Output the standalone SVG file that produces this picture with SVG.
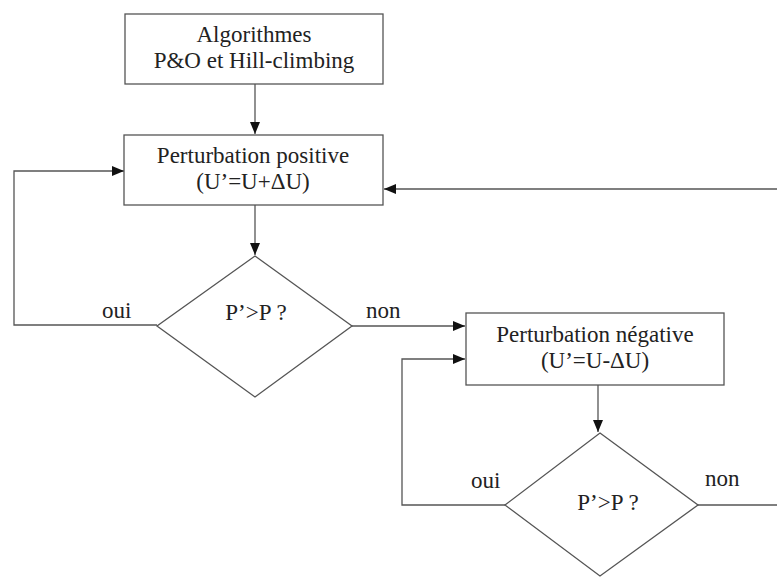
<svg xmlns="http://www.w3.org/2000/svg" width="777" height="577" viewBox="0 0 777 577">
<defs>
<style>
.box{fill:#fff;stroke:#555;stroke-width:1.3}
.ln{fill:none;stroke:#555;stroke-width:1.3}
.t{font-family:'Liberation Serif','Times New Roman',Tinos,'DejaVu Serif',serif;font-size:23px;fill:#222}
.c{text-anchor:middle}
</style>
<marker id="ah" viewBox="0 0 12 10" refX="12" refY="5" markerWidth="12" markerHeight="10" markerUnits="userSpaceOnUse" orient="auto">
<path d="M0,0 L12,5 L0,10 Z" fill="#111"/>
</marker>
</defs>
<rect width="777" height="577" fill="#fff"/>
<g id="connectors">
<path class="ln" d="M255,84 V134" marker-end="url(#ah)"/>
<path class="ln" d="M255,205 V255" marker-end="url(#ah)"/>
<path class="ln" d="M157,325 H14 V171 H124" marker-end="url(#ah)"/>
<path class="ln" d="M777,189 H384" marker-end="url(#ah)"/>
<path class="ln" d="M352,326 H465" marker-end="url(#ah)"/>
<path class="ln" d="M598,385 V432" marker-end="url(#ah)"/>
<path class="ln" d="M505,505 H402 V359 H465" marker-end="url(#ah)"/>
<path class="ln" d="M698,505 H777"/>
<text class="t" x="102" y="318">oui</text>
<text class="t" x="366" y="318">non</text>
<text class="t" x="471" y="488">oui</text>
<text class="t" x="705" y="486">non</text>
</g>
<g id="start">
<rect class="box" x="125" y="14" width="258" height="70"/>
<text class="t c" x="254" y="42">Algorithmes</text>
<text class="t c" x="254" y="68">P&amp;O et Hill-climbing</text>
</g>
<g id="pos">
<rect class="box" x="124" y="135" width="259" height="70"/>
<text class="t c" x="253" y="163">Perturbation positive</text>
<text class="t c" x="253" y="189">(U’=U+ΔU)</text>
</g>
<g id="dec1">
<polygon class="box" points="255,256 352,326 255,397 157,326"/>
<text class="t c" x="256" y="320">P’&gt;P ?</text>
</g>
<g id="neg">
<rect class="box" x="466" y="313" width="258" height="72"/>
<text class="t c" x="595" y="342">Perturbation négative</text>
<text class="t c" x="595" y="368">(U’=U-ΔU)</text>
</g>
<g id="dec2">
<polygon class="box" points="600,433 698,505 600,576 505,505"/>
<text class="t c" x="608" y="510">P’&gt;P ?</text>
</g>
</svg>
